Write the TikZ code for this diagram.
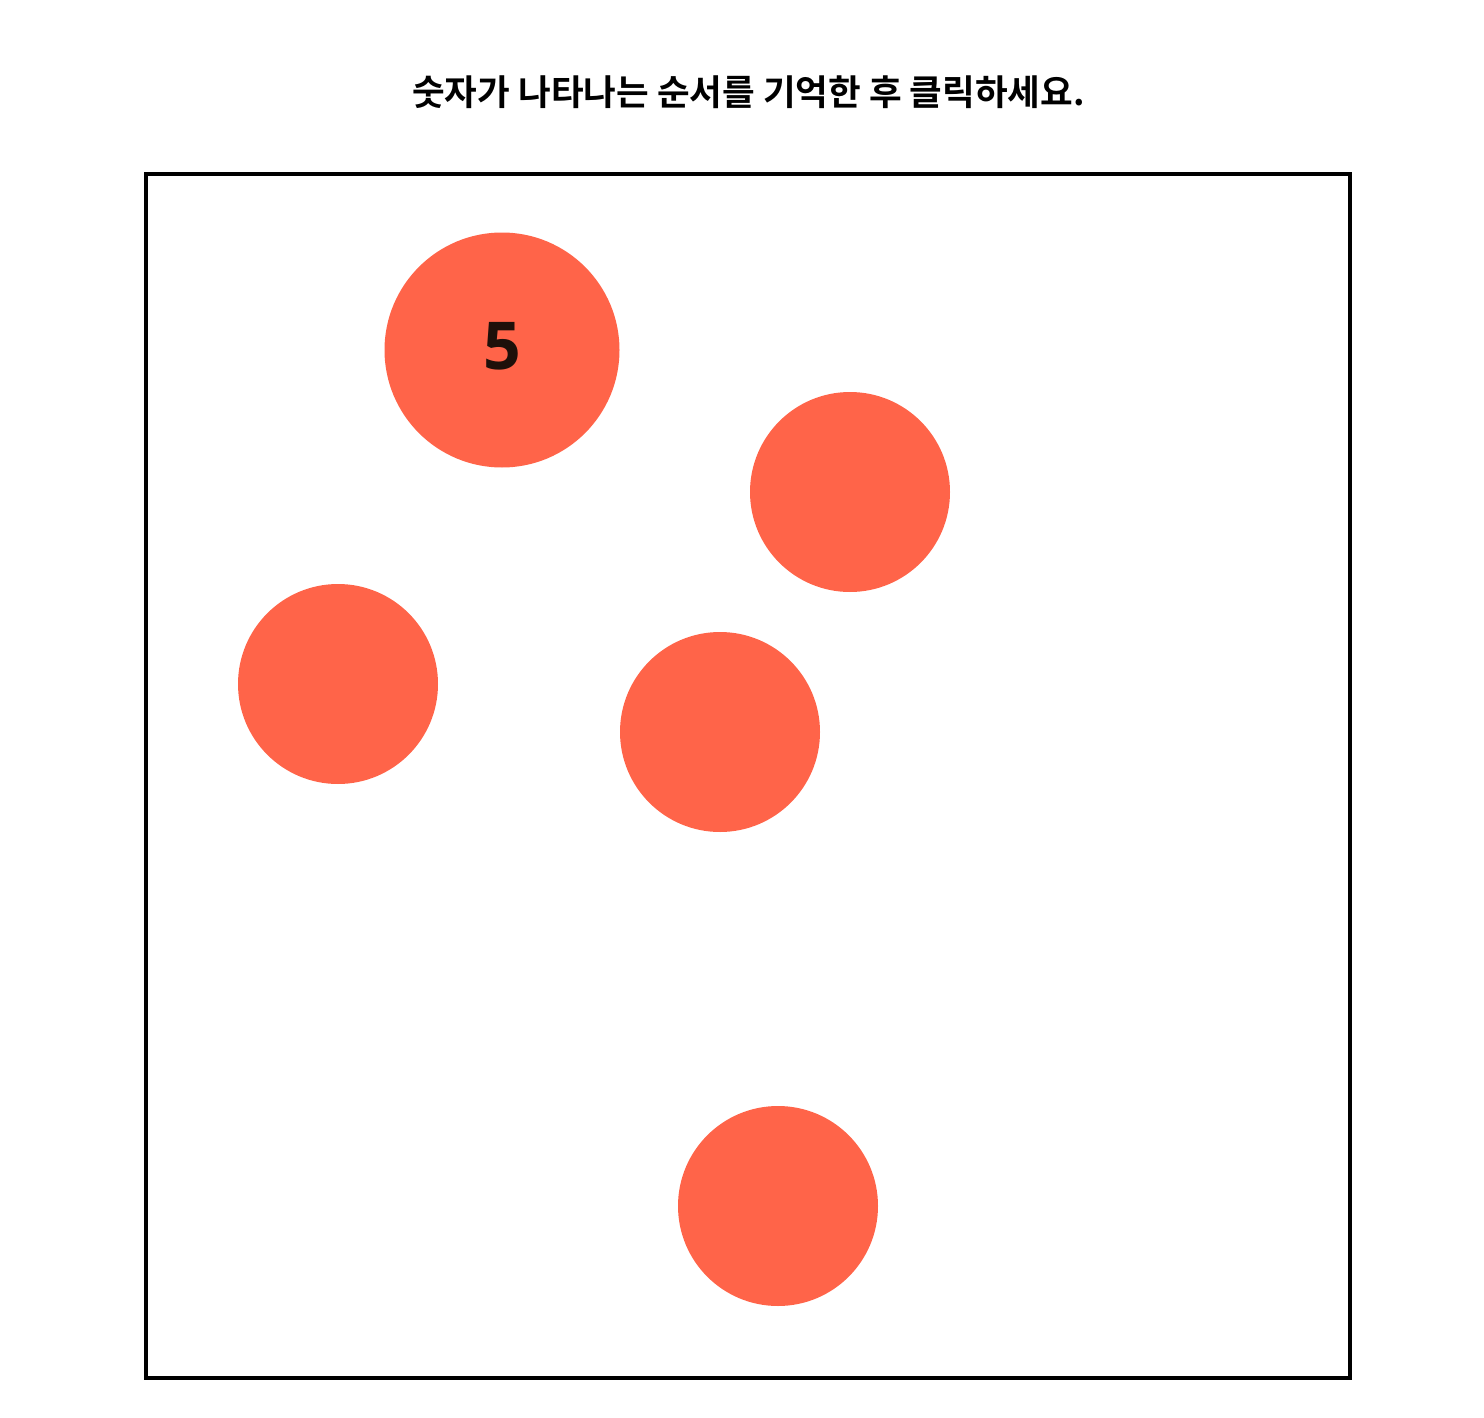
\documentclass[tikz,border=0pt]{standalone}
\usepackage{fontspec}
\newfontfamily\krfont{Noto Sans CJK KR}[BoldFont={Noto Sans CJK KR Bold}]
\newfontfamily\digitfont{Open Sans}
\usepackage{tikz}
\definecolor{dotred}{HTML}{FF6449}
\definecolor{numcol}{HTML}{1E100A}
\tikzset{
dot/.style={circle,fill=dotred,inner sep=0pt,minimum size=#1},
dot/.default=200pt
}

\begin{document}
\begin{tikzpicture}[x=1pt,y=-1pt]
\useasboundingbox (0,0) rectangle (1484,1418);
\draw[line width=4pt] (145.7,173.7) rectangle (1349.7,1377.7);
\draw
(748.5,92) node[font=\krfont\bfseries\fontsize{35.5}{37}\selectfont](title){숫자가 나타나는 순서를 기억한 후 클릭하세요.}
(502,350) node[dot=235pt](a){}
;
\node[text=numcol,font=\digitfont\bfseries\fontsize{66}{68}\selectfont](five) at ([yshift=4pt]a.center){5};
\foreach \n/\x/\y in {b/850/492, c/338/684, d/720/732, e/778/1206}{
\node[dot](\n) at (\x,\y){};
}
\end{tikzpicture}
\end{document}
